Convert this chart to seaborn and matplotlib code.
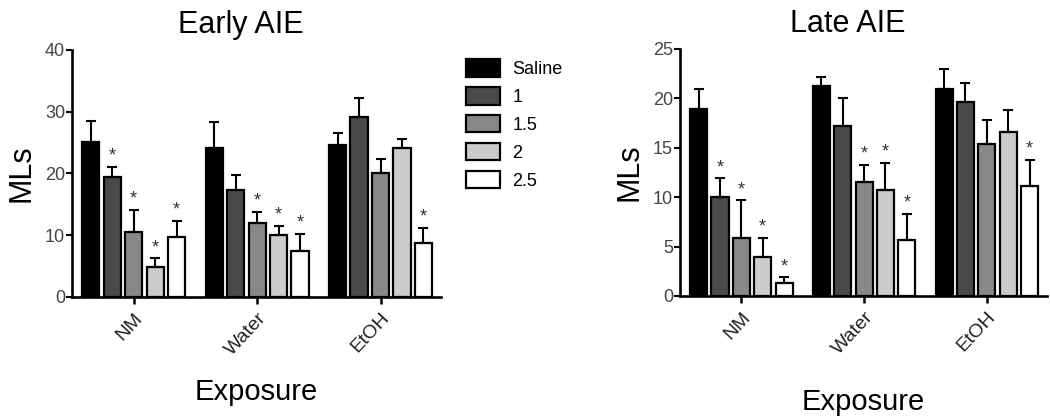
import pandas as pd
import numpy as np
import matplotlib
matplotlib.use("Agg")
import matplotlib.pyplot as plt
import seaborn as sns

# data (mean and upper error, MLs)
exposures = ["NM", "Water", "EtOH"]
doses = ["Saline", "1", "1.5", "2", "2.5"]

early_mean = {
    "Saline": [25.1, 24.1, 24.6],
    "1": [19.4, 17.3, 29.2],
    "1.5": [10.5, 12.0, 20.1],
    "2": [4.9, 10.1, 24.2],
    "2.5": [9.7, 7.4, 8.8],
}
early_err = {
    "Saline": [3.4, 4.2, 2.0],
    "1": [1.7, 2.5, 3.1],
    "1.5": [3.6, 1.8, 2.3],
    "2": [1.4, 1.4, 1.4],
    "2.5": [2.6, 2.8, 2.4],
}
late_mean = {
    "Saline": [18.9, 21.3, 20.9],
    "1": [10.0, 17.2, 19.6],
    "1.5": [5.9, 11.5, 15.4],
    "2": [3.9, 10.7, 16.6],
    "2.5": [1.3, 5.7, 11.1],
}
late_err = {
    "Saline": [2.0, 0.9, 2.1],
    "1": [1.9, 2.8, 2.0],
    "1.5": [3.8, 1.8, 2.4],
    "2": [2.0, 2.8, 2.2],
    "2.5": [0.6, 2.6, 2.7],
}
# significance stars (dose, exposure)
early_sig = [("1", "NM"), ("1.5", "NM"), ("2", "NM"), ("2.5", "NM"),
             ("1.5", "Water"), ("2", "Water"), ("2.5", "Water"), ("2.5", "EtOH")]
late_sig = early_sig

colors = ["#000000", "#4a4a4a", "#888888", "#cccccc", "#ffffff"]

sns.set_style("ticks")
plt.rcParams['font.family'] = ['Liberation Sans', 'DejaVu Sans']
plt.rcParams['text.color'] = 'black'
plt.rcParams['axes.labelcolor'] = 'black'


def to_frame(means, errs):
    rows = []
    for d in doses:
        for i, e in enumerate(exposures):
            rows.append({"Exposure": e, "Dose": d, "MLs": means[d][i], "err": errs[d][i]})
    return pd.DataFrame(rows)


def draw_panel(ax, df, sig, title, ymax, ystep, xlabpad):
    sns.barplot(data=df, x="Exposure", y="MLs", hue="Dose", order=exposures,
                hue_order=doses, palette=colors, errorbar=None, width=0.87, gap=0.2,
                edgecolor="black", linewidth=1.6, saturation=1, legend=False, ax=ax)
    for cont, d in zip(ax.containers, doses):
        sub = df[df["Dose"] == d].set_index("Exposure").loc[exposures]
        xs = [b.get_x() + b.get_width() / 2 for b in cont]
        ys = sub["MLs"].values
        es = sub["err"].values
        ax.errorbar(xs, ys, yerr=[np.zeros(len(es)), es], fmt="none", ecolor="black",
                    elinewidth=1.5, capsize=3.5, capthick=1.5, zorder=1)
        for x, y, e, ex in zip(xs, ys, es, exposures):
            if (d, ex) in sig:
                ax.annotate("*", (x, y + e), xytext=(0, 1.5), textcoords="offset points",
                            ha="center", va="bottom", fontsize=13, color="#333333")
    ax.set_ylim(0, ymax)
    ax.set_yticks(np.arange(0, ymax + 0.1, ystep))
    ax.set_xlim(-0.5, 2.49)
    sns.despine(ax=ax)
    for sp in ["left", "bottom"]:
        ax.spines[sp].set_linewidth(1.9)
        ax.spines[sp].set_color("black")
    ax.tick_params(axis="y", labelsize=13, labelcolor="#444444", width=1.5, length=4,
                   pad=1, color="black")
    ax.tick_params(axis="x", labelsize=14, labelcolor="#222222", width=1.8, length=5,
                   pad=4, color="black")
    for lab in ax.get_xticklabels():
        lab.set_rotation(47)
        lab.set_ha("right")
        lab.set_rotation_mode("anchor")
    ax.set_title(title, fontsize=22, pad=12, x=0.458)
    ax.set_ylabel("MLs", fontsize=22, labelpad=6)
    ax.set_xlabel("Exposure", fontsize=21, labelpad=xlabpad)


fig = plt.figure(figsize=(10.5, 4.19), dpi=100)
ax1 = fig.add_axes([0.0686, 0.2912, 0.3514, 0.5895])
ax2 = fig.add_axes([0.6476, 0.2936, 0.3495, 0.5895])

draw_panel(ax1, to_frame(early_mean, early_err), early_sig, "Early AIE", 40, 10, 14)
draw_panel(ax2, to_frame(late_mean, late_err), late_sig, "Late AIE", 25, 5, 22)

handles = [plt.Rectangle((0, 0), 1, 1, facecolor=c, edgecolor="black", linewidth=1.6)
           for c in colors]
fig.legend(handles, doses, loc="upper left", bbox_to_anchor=(0.428, 0.897),
           frameon=False, fontsize=13, handlelength=1.9, handleheight=1.1,
           labelspacing=0.5, handletextpad=0.7)

fig.savefig("out.png", dpi=100)
